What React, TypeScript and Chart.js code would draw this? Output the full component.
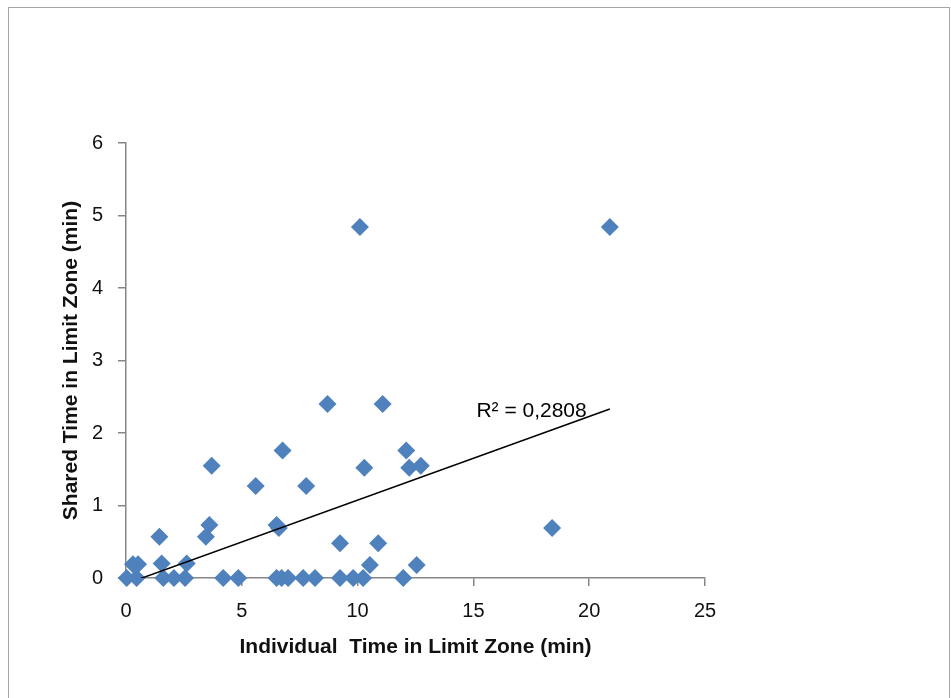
import React, { useEffect, useRef } from "react";
import { Chart, registerables } from "chart.js";

Chart.register(...registerables);

// Individual time in limit zone (min) vs shared time in limit zone (min)
const individualTime: number[] = [
  0.03, 0.46, 1.61, 2.07, 2.55, 4.2, 4.85, 6.5, 6.72, 7.0, 7.65, 8.16, 9.24, 9.81, 10.24, 11.97,
  0.3, 0.52, 1.54, 2.62, 10.53, 12.55,
  9.24, 10.89,
  1.44, 3.45,
  3.6, 6.5, 6.6, 18.4,
  5.6, 7.78,
  3.7, 10.29, 12.23, 12.73,
  6.76, 12.1,
  8.7, 11.08,
  10.1, 20.89,
];
const sharedTime: number[] = [
  0, 0, 0, 0, 0, 0, 0, 0, 0, 0, 0, 0, 0, 0, 0, 0,
  0.19, 0.19, 0.2, 0.2, 0.18, 0.18,
  0.48, 0.48,
  0.57, 0.57,
  0.73, 0.73, 0.69, 0.69,
  1.27, 1.27,
  1.55, 1.52, 1.52, 1.55,
  1.76, 1.76,
  2.4, 2.4,
  4.84, 4.84,
];

// Linear trendline endpoints (as drawn by the source chart)
const trendX: number[] = [0, 20.89];
const trendY: number[] = [-0.08, 2.33];
const rSquaredLabel = "R² = 0,2808";

const xTicks = [0, 5, 10, 15, 20, 25];
const yTicks = [0, 1, 2, 3, 4, 5, 6];

const xTitle = "Individual  Time in Limit Zone (min)";
const yTitle = "Shared Time in Limit Zone (min)";

const FONT = "'Liberation Sans', Arial, sans-serif";

export default function App() {
  const ref = useRef<HTMLCanvasElement | null>(null);

  useEffect(() => {
    if (!ref.current) return;
    const framePlugin = {
      id: "frame",
      beforeDraw(chart: any) {
        const ctx = chart.ctx;
        ctx.save();
        ctx.fillStyle = "#ffffff";
        ctx.fillRect(0, 0, chart.width, chart.height);
        ctx.strokeStyle = "#A6A6A6";
        ctx.lineWidth = 1;
        ctx.strokeRect(8.5, 7.5, 941, 720);
        ctx.restore();
      },
    };
    const labelPlugin = {
      id: "r2label",
      afterDatasetsDraw(chart: any) {
        const ctx = chart.ctx;
        const xs = chart.scales.x;
        const ys = chart.scales.y;
        ctx.save();
        ctx.fillStyle = "#000000";
        ctx.font = `21px ${FONT}`;
        ctx.textAlign = "left";
        ctx.textBaseline = "middle";
        ctx.fillText(rSquaredLabel, xs.getPixelForValue(15.13), ys.getPixelForValue(2.3));
        ctx.restore();
      },
    };

    const chart = new Chart(ref.current, {
      type: "scatter",
      data: {
        datasets: [
          {
            type: "line",
            label: "Trend",
            data: trendX.map((x, i) => ({ x, y: trendY[i] })),
            borderColor: "#000000",
            borderWidth: 1.5,
            pointRadius: 0,
            fill: false,
          } as any,
          {
            label: "Shared Time",
            data: individualTime.map((x, i) => ({ x, y: sharedTime[i] })),
            pointStyle: "rectRot",
            pointRadius: 9,
            pointHoverRadius: 9,
            backgroundColor: "#4F81BD",
            borderColor: "#4F81BD",
            borderWidth: 0,
            clip: false,
          } as any,
        ],
      },
      options: {
        responsive: false,
        animation: false,
        events: [],
        layout: { padding: { left: 0, top: 143, right: 246, bottom: 0 } },
        plugins: {
          legend: { display: false },
          tooltip: { enabled: false },
        },
        scales: {
          x: {
            type: "linear",
            min: 0,
            max: 25,
            afterFit: (s: any) => {
              s.height = 120;
            },
            afterBuildTicks: (s: any) => {
              s.ticks = xTicks.map((v) => ({ value: v }));
            },
            border: { color: "#868686", width: 1.5 },
            grid: { drawOnChartArea: false, drawTicks: true, tickLength: 8, color: "#868686", lineWidth: 1.5 },
            ticks: {
              color: "#111111",
              padding: 13,
              font: { family: FONT, size: 20 },
            },
            title: {
              display: true,
              text: xTitle,
              color: "#111111",
              padding: { top: 0, bottom: 38 },
              font: { family: FONT, size: 21, weight: "bold" },
            },
          },
          y: {
            type: "linear",
            min: 0,
            max: 6,
            afterFit: (s: any) => {
              s.width = 126;
            },
            afterBuildTicks: (s: any) => {
              s.ticks = yTicks.map((v) => ({ value: v }));
            },
            border: { color: "#868686", width: 1.5 },
            grid: { drawOnChartArea: false, drawTicks: true, tickLength: 8, color: "#868686", lineWidth: 1.5 },
            ticks: {
              color: "#111111",
              padding: 15,
              font: { family: FONT, size: 20 },
            },
            title: {
              display: true,
              text: yTitle,
              color: "#111111",
              padding: { top: 59, bottom: 0 },
              font: { family: FONT, size: 21, weight: "bold" },
            },
          },
        },
      },
      plugins: [framePlugin, labelPlugin],
    });
    return () => chart.destroy();
  }, []);

  return (
    <div style={{ position: "fixed", left: 0, top: 0, width: 951, height: 698 }}>
      <canvas ref={ref} width={951} height={698} style={{ display: "block", width: 951, height: 698 }} />
    </div>
  );
}
